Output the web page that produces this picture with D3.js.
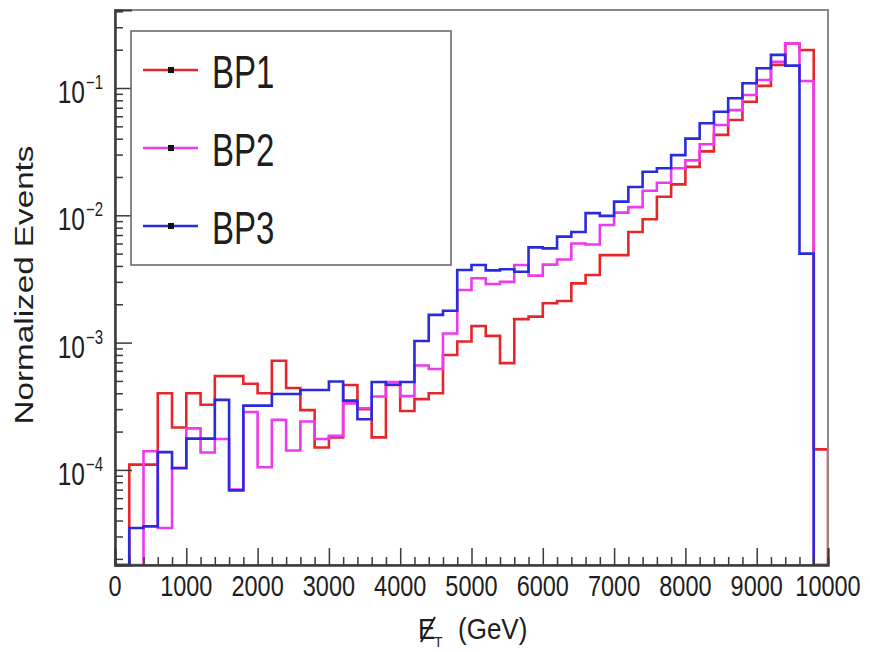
<!DOCTYPE html>
<html>
<head>
<meta charset="UTF-8" />
<title>Missing ET</title>
<style>
    body {
        margin: 0;
        background: #fff;
    }
    svg text {
        font-family: "Liberation Sans", Arial, Helvetica, sans-serif;
        fill: #1e1e1e;
    }
</style>
</head>
<body>
<svg id="chart" width="870" height="652"></svg>
<script src="https://cdnjs.cloudflare.com/ajax/libs/d3/7.8.5/d3.min.js"></script>
<script>
    // 50 bins of 200 GeV, normalized events per bin
    var binEdges = d3.range(0, 10001, 200);
    var seriesNames = ['BP1', 'BP2', 'BP3'];
    var seriesColors = ['#e5262a', '#ee3aee', '#2a2ade'];

    var bp1 = [0, 1.1e-4, 1.1e-4, 4.0e-4, 2.15e-4, 4.0e-4, 3.25e-4, 5.45e-4, 5.45e-4, 4.75e-4,
        4.0e-4, 7.2e-4, 4.4e-4, 2.95e-4, 1.5e-4, 1.8e-4, 4.65e-4, 3.0e-4, 1.8e-4, 4.65e-4,
        2.9e-4, 3.6e-4, 4.0e-4, 8.0e-4, 1.02e-3, 1.35e-3, 1.13e-3, 6.9e-4, 1.53e-3, 1.6e-3,
        2.04e-3, 2.12e-3, 2.92e-3, 3.4e-3, 4.87e-3, 4.87e-3, 7.4e-3, 9.3e-3, 0.014, 0.0175,
        0.024, 0.0318, 0.0428, 0.056, 0.078, 0.104, 0.152, 0.224, 0.199, 1.45e-4];
    var bp2 = [0, 0, 1.4e-4, 3.5e-5, 1.04e-4, 2.12e-4, 1.37e-4, 1.75e-4, 7.0e-5, 2.85e-4,
        1.05e-4, 2.47e-4, 1.42e-4, 2.4e-4, 1.75e-4, 1.85e-4, 3.33e-4, 3.05e-4, 3.77e-4, 4.9e-4,
        3.8e-4, 6.6e-4, 6.2e-4, 1.18e-3, 2.59e-3, 3.2e-3, 2.89e-3, 3.0e-3, 4.07e-3, 3.36e-3,
        4.1e-3, 4.5e-3, 6.0e-3, 5.9e-3, 8.4e-3, 0.0105, 0.0116, 0.0156, 0.018, 0.0234,
        0.027, 0.0362, 0.0512, 0.067, 0.088, 0.1156, 0.161, 0.224, 0.1135, 0];
    var bp3 = [0, 3.5e-5, 3.6e-5, 1.38e-4, 1.03e-4, 1.76e-4, 1.76e-4, 3.55e-4, 6.9e-5, 3.2e-4,
        3.2e-4, 3.95e-4, 3.95e-4, 4.24e-4, 4.24e-4, 4.95e-4, 3.5e-4, 2.5e-4, 4.9e-4, 4.66e-4,
        4.9e-4, 1.03e-3, 1.65e-3, 1.78e-3, 3.72e-3, 4.07e-3, 3.69e-3, 3.77e-3, 3.6e-3, 5.6e-3,
        5.5e-3, 6.8e-3, 7.4e-3, 0.0104, 9.9e-3, 0.0128, 0.0167, 0.022, 0.0234, 0.0297,
        0.04, 0.0528, 0.065, 0.083, 0.109, 0.143, 0.182, 0.15, 5.0e-3, 0];

    var xTicks = [0, 1000, 2000, 3000, 4000, 5000, 6000, 7000, 8000, 9000, 10000];
    var yDecades = [-4, -3, -2, -1];

    var svg = d3.select('#chart');
    var plotLeft = 115, plotRight = 828, plotTop = 10, plotBottom = 565;
    var yMin = 1.79e-5, yMax = 0.41;

    var x = d3.scaleLinear().domain([0, 10000]).range([plotLeft, plotRight]);
    var y = d3.scaleLog().domain([yMin, yMax]).range([plotBottom, plotTop]);

    // stretched text, the original canvas was scaled taller than wide
    function label(parent, px, py, str, size, sx, sy, anchor) {
        return parent.append('text')
            .attr('transform', 'translate(' + px + ',' + py + ') scale(' + sx + ',' + sy + ')')
            .attr('font-size', size)
            .attr('text-anchor', anchor || 'start')
            .text(str);
    }

    function yv(v) {
        return v > yMin ? y(v) : y(yMin);
    }

    // histogram outlines
    svg.append('clipPath').attr('id', 'plotclip')
        .append('rect').attr('x', plotLeft).attr('y', plotTop)
        .attr('width', plotRight - plotLeft).attr('height', plotBottom - plotTop);

    var line = d3.line();
    [bp1, bp2, bp3].forEach(function (vals, k) {
        var pts = [[x(binEdges[0]), y(yMin)]];
        vals.forEach(function (v, i) {
            pts.push([x(binEdges[i]), yv(v)]);
            pts.push([x(binEdges[i + 1]), yv(v)]);
        });
        pts.push([x(binEdges[binEdges.length - 1]), y(yMin)]);
        svg.append('path')
            .attr('d', line(pts))
            .attr('clip-path', 'url(#plotclip)')
            .attr('fill', 'none')
            .attr('stroke', seriesColors[k])
            .attr('stroke-width', 2.6)
            .attr('stroke-linejoin', 'miter');
    });

    // frame
    svg.append('rect')
        .attr('x', plotLeft).attr('y', plotTop)
        .attr('width', plotRight - plotLeft).attr('height', plotBottom - plotTop)
        .attr('fill', 'none').attr('stroke', '#8a8a8a').attr('stroke-width', 2);

    // x axis ticks (pointing into the frame)
    var xMinor = d3.range(0, 10001, 200).filter(function (d) { return d % 1000 !== 0; });
    var gx = svg.append('g').attr('transform', 'translate(0,' + plotBottom + ')');
    gx.call(d3.axisBottom(x).tickValues(xTicks).tickSize(-17).tickFormat(''));
    gx.append('g').call(d3.axisBottom(x).tickValues(xMinor).tickSize(-8).tickFormat(''));
    gx.selectAll('.domain').attr('stroke', '#3a3a3a').attr('stroke-width', 2);
    gx.selectAll('.tick line').attr('stroke', '#3a3a3a').attr('stroke-width', 1.5);

    xTicks.forEach(function (d) {
        label(svg, x(d), 596, d, 23.5, 1, 1.27, 'middle');
    });

    // y axis ticks
    var yMajor = yDecades.map(function (e) { return Math.pow(10, e); });
    var yMinor = [];
    [-5, -4, -3, -2, -1].forEach(function (e) {
        for (var m = 2; m <= 9; m++) {
            var v = m * Math.pow(10, e);
            if (v > yMin && v < yMax) yMinor.push(v);
        }
    });
    var gy = svg.append('g').attr('transform', 'translate(' + plotLeft + ',0)');
    gy.call(d3.axisLeft(y).tickValues(yMajor).tickSize(-17).tickFormat(''));
    gy.append('g').call(d3.axisLeft(y).tickValues(yMinor).tickSize(-8).tickFormat(''));
    gy.selectAll('.domain').attr('stroke', '#3a3a3a').attr('stroke-width', 2);
    gy.selectAll('.tick line').attr('stroke', '#3a3a3a').attr('stroke-width', 1.5);

    yDecades.forEach(function (e) {
        var ty = y(Math.pow(10, e));
        label(svg, 85, ty + 15, '10', 24.5, 1, 1.3, 'end');
        label(svg, 86, ty + 1, '\u2212' + Math.abs(e), 15, 1, 1.3, 'start');
    });

    // axis titles
    svg.append('text')
        .attr('transform', 'translate(33,285) rotate(-90) scale(1.33,1)')
        .attr('font-size', 25)
        .attr('text-anchor', 'middle')
        .text('Normalized Events');

    label(svg, 418, 639, 'E', 26, 1, 1.1, 'start');
    label(svg, 434, 647, 'T', 14, 1, 1.1, 'start');
    svg.append('line')
        .attr('x1', 435).attr('y1', 617).attr('x2', 421).attr('y2', 642)
        .attr('stroke', '#1e1e1e').attr('stroke-width', 2);
    label(svg, 458, 639, '(GeV)', 26, 1, 1.1, 'start');

    // legend
    var legend = svg.append('g');
    legend.append('rect')
        .attr('x', 131).attr('y', 31).attr('width', 320).attr('height', 234)
        .attr('fill', '#fff').attr('stroke', '#6a6a6a').attr('stroke-width', 1.6);
    seriesNames.forEach(function (name, k) {
        var ly = 70 + k * 78;
        legend.append('line')
            .attr('x1', 143).attr('x2', 198).attr('y1', ly).attr('y2', ly)
            .attr('stroke', seriesColors[k]).attr('stroke-width', 2.4);
        legend.append('rect')
            .attr('x', 168).attr('y', ly - 3).attr('width', 6).attr('height', 6)
            .attr('fill', '#111');
        label(legend, 212, ly + 18, name, 33, 1, 1.42, 'start');
    });
</script>
</body>
</html>
